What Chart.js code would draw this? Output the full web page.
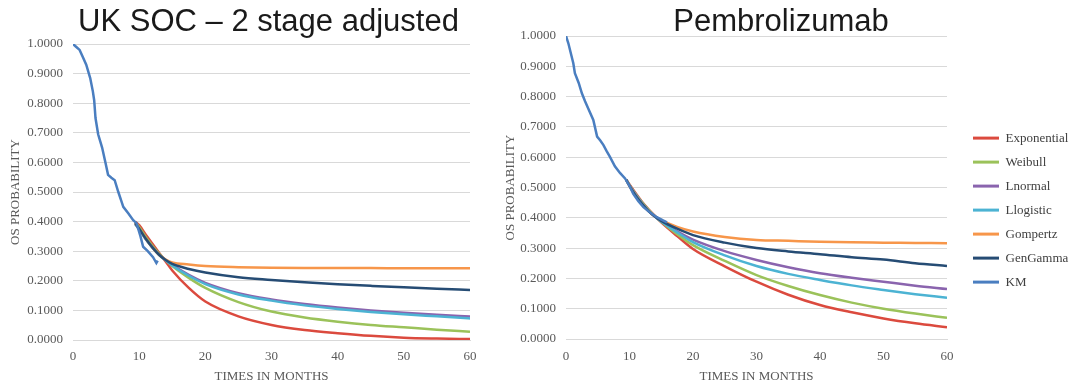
<!DOCTYPE html>
<html><head><meta charset="utf-8">
<script src="https://cdn.jsdelivr.net/npm/chart.js@4.4.1/dist/chart.umd.min.js"></script>
<style>
html,body{margin:0;padding:0;background:#fff;}
#wrap{position:relative;width:1074px;height:386px;overflow:hidden;background:#fff;}
#c1{position:absolute;left:0;top:0;}
#c2{position:absolute;left:488px;top:0;}
</style></head><body>
<div id="wrap"><canvas id="c1" width="537" height="386"></canvas><canvas id="c2" width="586" height="386"></canvas></div>
<script>
// ---- data ----
const SERIES = ['Exponential','Weibull','Lnormal','Llogistic','Gompertz','GenGamma','KM'];
const COLORS = ['#DB4A3E','#9BC25A','#8A64AE','#4CB3D3','#F7964A','#264C74','#4A7EC0'];
const Y_TICKS = [0,0.1,0.2,0.3,0.4,0.5,0.6,0.7,0.8,0.9,1.0];
const X_TICKS = [0,10,20,30,40,50,60];

// UK SOC - 2 stage adjusted
const L_KM_MONTHS = [0,0.5,1,1.5,2,2.6,3,3.2,3.4,3.8,4.4,4.9,5.3,5.8,6.3,6.85,7.3,7.6,8.35,9.1,9.6,10.2,10.6,11.3,12.1,12.6,12.8];
const L_KM = [1.0,0.99,0.98,0.955,0.93,0.885,0.84,0.81,0.75,0.695,0.65,0.60,0.558,0.548,0.54,0.50,0.47,0.45,0.428,0.405,0.395,0.35,0.315,0.30,0.28,0.26,0.268];
const L_MODEL_MONTHS = [9.4,10,11,12,13,14,15,17.5,20,25,30,35,40,45,50,55,60];
const L_EXP = [0.400,0.388,0.356,0.325,0.295,0.265,0.235,0.176,0.130,0.080,0.051,0.034,0.023,0.014,0.008,0.005,0.003];
const L_WEI = [0.398,0.382,0.348,0.318,0.292,0.270,0.250,0.210,0.176,0.128,0.096,0.076,0.062,0.051,0.043,0.035,0.028];
const L_LNO = [0.392,0.374,0.341,0.313,0.289,0.270,0.254,0.220,0.193,0.158,0.137,0.122,0.110,0.100,0.092,0.085,0.079];
const L_LLO = [0.392,0.373,0.340,0.312,0.288,0.269,0.252,0.217,0.189,0.154,0.133,0.117,0.105,0.095,0.087,0.080,0.073];
const L_GOM = [0.395,0.376,0.342,0.313,0.288,0.272,0.262,0.255,0.250,0.246,0.244,0.243,0.243,0.243,0.242,0.242,0.242];
const L_GEN = [0.395,0.376,0.342,0.313,0.288,0.270,0.257,0.240,0.228,0.212,0.203,0.195,0.188,0.183,0.178,0.173,0.169];

// Pembrolizumab
const R_KM_MONTHS = [0,0.37,0.8,1.15,1.4,2,2.5,3,3.5,4.3,4.9,5.4,5.9,6.4,6.9,7.7,8.5,9.3,10,10.6,11.4,12.2,13.2,14.3,15.2,15.9];
const R_KM = [1.0,0.976,0.94,0.91,0.877,0.845,0.811,0.785,0.761,0.723,0.668,0.655,0.64,0.62,0.602,0.57,0.548,0.53,0.505,0.479,0.455,0.435,0.418,0.402,0.392,0.385];
const R_MODEL_MONTHS = [9.5,10,11,12,13,14,15,17.5,20,25,30,35,40,45,50,55,60];
const R_EXP = [0.525,0.510,0.480,0.452,0.428,0.406,0.385,0.340,0.297,0.240,0.189,0.146,0.112,0.088,0.068,0.052,0.039];
const R_WEI = [0.525,0.508,0.477,0.450,0.426,0.405,0.387,0.346,0.310,0.258,0.211,0.175,0.145,0.120,0.100,0.084,0.070];
const R_LNO = [0.525,0.507,0.475,0.447,0.423,0.404,0.389,0.355,0.328,0.290,0.261,0.237,0.217,0.202,0.189,0.176,0.165];
const R_LLO = [0.525,0.507,0.475,0.448,0.424,0.404,0.388,0.352,0.320,0.276,0.241,0.215,0.195,0.177,0.162,0.148,0.136];
const R_GOM = [0.525,0.505,0.472,0.445,0.422,0.405,0.392,0.370,0.355,0.337,0.327,0.324,0.321,0.319,0.318,0.317,0.316];
const R_GEN = [0.525,0.505,0.472,0.445,0.422,0.404,0.390,0.364,0.343,0.318,0.300,0.289,0.280,0.270,0.262,0.250,0.241];

// ---- build ----
const SERIF = "'Liberation Serif','Times New Roman',serif";
const SANS = "'Liberation Sans',Arial,sans-serif";
const TICK_COLOR = '#595959';

function pts(xs, ys){ return xs.map((x,i)=>({x:x, y:ys[i]})); }

function makeDatasets(modelMonths, modelSets, kmMonths, km){
  const ds = modelSets.map((vals,i)=>({
    label: SERIES[i], data: pts(modelMonths, vals),
    borderColor: COLORS[i], backgroundColor: COLORS[i],
    borderWidth: 2.5, pointRadius: 0, fill:false,
    cubicInterpolationMode: 'monotone', order: 7 - i
  }));
  ds.push({label: SERIES[6], data: pts(kmMonths, km), borderColor: COLORS[6], backgroundColor: COLORS[6],
    borderWidth: 2.5, pointRadius: 0, fill:false, tension: 0, order: 0});
  return ds;
}

function makeOptions(cfg){
  return {
    responsive: false, animation: false, devicePixelRatio: 1,
    layout: {padding: {left:0, right:0, top:0, bottom:0}},
    plugins: {
      title: {display: true, text: cfg.title, color: '#1a1a1a',
        font: {family: SANS, size: 31, weight: 'normal', lineHeight: 0.8},
        padding: {top: 10, bottom: cfg.titleBottom}},
      legend: cfg.legend,
      tooltip: {enabled: false}
    },
    scales: {
      x: {type: 'linear', min: 0, max: 60,
        afterBuildTicks: s => { s.ticks = X_TICKS.map(v=>({value:v})); },
        afterFit: s => { s.height = cfg.xHeight; },
        grid: {display: false, drawTicks: false},
        border: {display: true, color: '#d9d9d9', width: 1},
        ticks: {color: TICK_COLOR, font: {family: SERIF, size: 13}, padding: cfg.xTickPad, maxRotation: 0},
        title: {display: true, text: 'TIMES IN MONTHS', color: TICK_COLOR, font: {family: SERIF, size: 13}, padding: {top: 0, bottom: 2}}
      },
      y: {type: 'linear', min: 0, max: 1,
        afterBuildTicks: s => { s.ticks = Y_TICKS.map(v=>({value:v})); },
        afterFit: s => { s.width = cfg.yWidth; },
        grid: {color: '#d9d9d9', lineWidth: 1, drawTicks: false},
        border: {display: false},
        ticks: {color: TICK_COLOR, font: {family: SERIF, size: 13}, padding: 10, callback: v => Number(v).toFixed(4)},
        title: {display: true, text: 'OS PROBABILITY', color: TICK_COLOR, font: {family: SERIF, size: 13}, padding: {top: cfg.yTitlePad, bottom: 0}}
      },
      y2: {type: 'linear', position: 'right', display: true,
        afterFit: s => { s.width = cfg.rightGap; },
        grid: {display: false, drawTicks: false}, border: {display: false}, ticks: {display: false}}
    }
  };
}

const legendOff = {display: false};
const legendOn = {
  display: true, position: 'right', align: 'start',
  title: {display: true, text: ' ', font: {family: SERIF, size: 13}, padding: {top: 105, bottom: 0}},
  labels: {
    boxWidth: 26, boxHeight: 3, padding: 11, color: '#404040',
    font: {family: SERIF, size: 13},
    generateLabels: chart => chart.data.datasets.map((d,i)=>({
      text: d.label, fillStyle: d.borderColor, strokeStyle: d.borderColor, lineWidth: 0,
      hidden: false, datasetIndex: i, fontColor: '#404040'
    }))
  }
};

new Chart(document.getElementById('c1'), {
  type: 'line',
  data: {datasets: makeDatasets(L_MODEL_MONTHS, [L_EXP,L_WEI,L_LNO,L_LLO,L_GOM,L_GEN], L_KM_MONTHS, L_KM)},
  options: makeOptions({title: 'UK SOC \u2013 2 stage adjusted', titleBottom: 9.2,
    legend: legendOff, xHeight: 46, xTickPad: 9, yWidth: 73, yTitlePad: 8, rightGap: 67})
});

new Chart(document.getElementById('c2'), {
  type: 'line',
  data: {datasets: makeDatasets(R_MODEL_MONTHS, [R_EXP,R_WEI,R_LNO,R_LLO,R_GOM,R_GEN], R_KM_MONTHS, R_KM)},
  options: makeOptions({title: 'Pembrolizumab', titleBottom: 1.2,
    legend: Object.assign({maxWidth: 112}, legendOn), xHeight: 47, xTickPad: 10, yWidth: 78, yTitlePad: 15, rightGap: 15})
});
</script>
</body></html>
